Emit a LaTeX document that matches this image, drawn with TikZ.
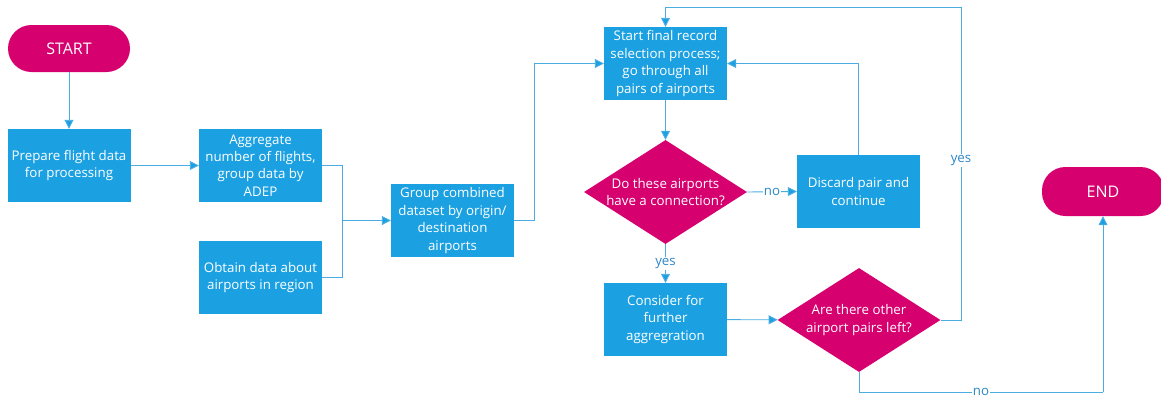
\documentclass[tikz,border=0pt]{standalone}
\usepackage{fontspec}
\setmainfont{Open Sans}
\usetikzlibrary{shapes.geometric,arrows.meta}
\definecolor{boxblue}{RGB}{27,161,226}
\definecolor{decpink}{RGB}{214,0,111}
\definecolor{linkblue}{RGB}{75,172,226}
\definecolor{lblblue}{RGB}{45,135,200}
\begin{document}
\begin{tikzpicture}[x=1pt,y=-1pt,
  every node/.style={font=\fontsize{13.3}{17.4}\selectfont},
  proc/.style={rectangle, fill=boxblue, text=white, minimum width=123pt,
    minimum height=73pt, inner sep=1pt, align=center},
  term/.style={rectangle, rounded corners=23.5pt, fill=decpink, text=white,
    minimum width=122pt, minimum height=47pt, font=\fontsize{16}{18}\selectfont},
  decision/.style={diamond, fill=decpink, minimum width=163pt,
    minimum height=104pt, inner sep=0pt},
  dtext/.style={text=white, align=center},
  link/.style={draw=linkblue, line width=0.9pt},
  flow/.style={link, -{Triangle[length=9pt,width=9pt,fill=boxblue]}},
  lbl/.style={fill=white, text=lblblue, inner sep=1pt}
]
\useasboundingbox (0,0) rectangle (1161,399);

% nodes
\node[term] (start) at (69,48.5) {START};
\node[proc] (prep) at (69,165.5) {Prepare flight data\\for processing};
\node[proc] (agg) at (260.5,165.5) {Aggregate\\number of flights,\\group data by\\ADEP};
\node[proc] (obt) at (260.5,277.5) {Obtain data about\\airports in region};
\node[proc] (grp) at (452.5,220.5) {Group combined\\dataset by origin/\\destination\\airports};
\node[proc] (sel) at (665.5,63.5) {Start final record\\selection process;\\go through all\\pairs of airports};
\node[decision, label={[dtext]center:Do these airports\\have a connection?}] (d1) at (665.5,192) {};
\node[proc] (disc) at (858.5,191.5) {Discard pair and\\continue};
\node[proc] (cons) at (665.5,319.5) {Consider for\\further\\aggregration};
\node[decision, label={[dtext]center:Are there other\\airport pairs left?}] (d2) at (859,320) {};
\node[term, minimum height=49pt] (end) at (1103,191.5) {END};

% bend points
\coordinate (j1) at (342,220.5);
\coordinate (c2) at (534,220.5);
\coordinate (c3) at (961,7);
\coordinate (c4) at (859,392);
\coordinate (c5) at (1103,392);

% connectors
\draw[flow] (start) -- (prep);
\draw[flow] (prep) -- (agg);
\draw[link] (agg.east) -| (j1);
\draw[link] (obt.east) -| (j1);
\draw[flow] (j1) -- (grp.west);
\draw[flow] (grp.east) -- (c2) |- (sel.west);
\draw[flow] (sel) -- (d1);
\draw[flow] (d1.east) -- node[lbl]{no} (disc.west);
\draw[flow] (disc.north) |- (sel.east);
\draw[flow] (d1.south) -- node[lbl]{yes} (cons.north);
\draw[flow] (cons) -- (d2);
\draw[link] (d2.east) -| node[lbl,pos=0.755]{yes} (c3);
\draw[flow] (c3) -| (sel.north);
\draw[link] (d2.south) -- (c4) -- node[lbl]{no} (c5);
\draw[flow] (c5) -- (end.south);
\end{tikzpicture}
\end{document}
